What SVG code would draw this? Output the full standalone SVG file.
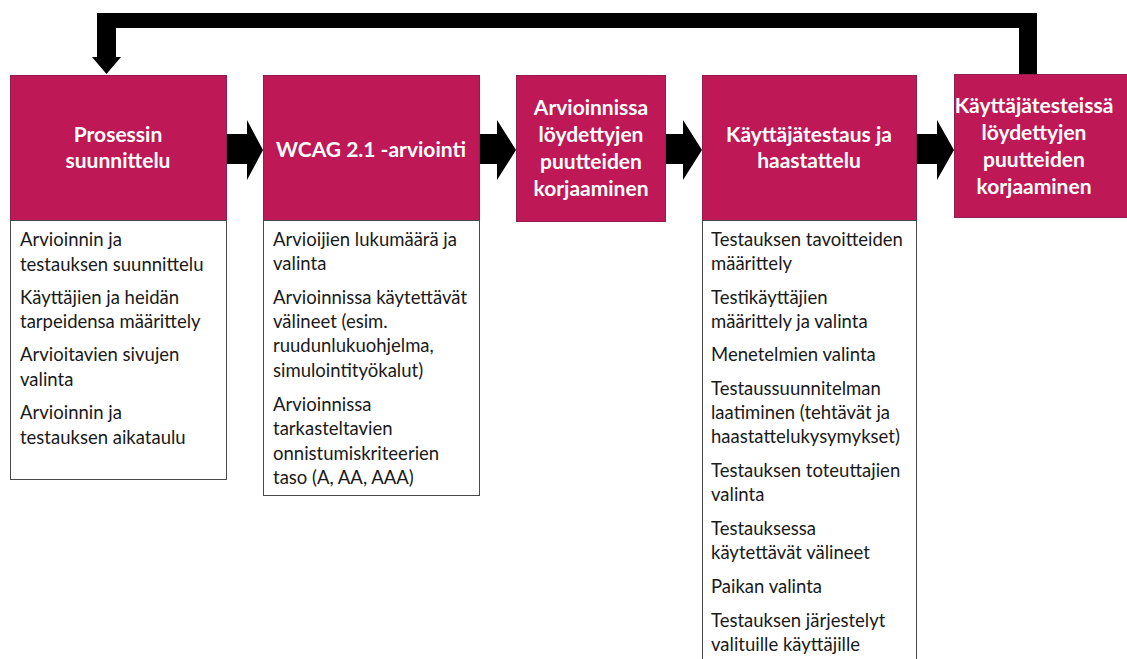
<svg xmlns="http://www.w3.org/2000/svg" width="1127" height="659" viewBox="0 0 1127 659">
<defs>
<style>
.hdr{fill:#BE1856;stroke:#8f1f4a;stroke-width:1}
.lst{fill:#ffffff;stroke:#4a4a4a;stroke-width:1}
.ht{font-family:Lato,"Liberation Sans",sans-serif;font-weight:bold;font-size:21px;fill:#ffffff;text-anchor:middle}
.lt{font-family:Lato,"Liberation Sans",sans-serif;font-size:18.5px;fill:#1a1a1a}
.arr{fill:#000000}
</style>
</defs>
<rect width="1127" height="659" fill="#ffffff"/>
<g id="connectors">
<polygon class="arr" points="1037,13 1037,74 1019,74 1019,28 116,28 116,57 121,57 106.5,74 92,57 97,57 97,13"/>
<polygon class="arr" points="226,134 247,134 247,120 263,150 247,180 247,164 226,164"/>
<polygon class="arr" points="479,134 497,134 497,120 516,150 497,180 497,164 479,164"/>
<polygon class="arr" points="665,134 683,134 683,120 702,150 683,180 683,164 665,164"/>
<polygon class="arr" points="916,134 937,134 937,120 954,150 937,180 937,164 916,164"/>
</g>
<g id="node1">
<rect class="hdr" x="10.5" y="75.5" width="216" height="145"/>
<text class="ht" x="118" y="142">Prosessin</text>
<text class="ht" x="118" y="168">suunnittelu</text>
<rect class="lst" x="10.5" y="220.5" width="216" height="259"/>
<text class="lt" x="20" y="246">Arvioinnin ja</text>
<text class="lt" x="20" y="271">testauksen suunnittelu</text>
<text class="lt" x="20" y="304">Käyttäjien ja heidän</text>
<text class="lt" x="20" y="328">tarpeidensa määrittely</text>
<text class="lt" x="20" y="361">Arvioitavien sivujen</text>
<text class="lt" x="20" y="386">valinta</text>
<text class="lt" x="20" y="419">Arvioinnin ja</text>
<text class="lt" x="20" y="444">testauksen aikataulu</text>
</g>
<g id="node2">
<rect class="hdr" x="263.5" y="75.5" width="216" height="145"/>
<text class="ht" x="371" y="157">WCAG 2.1 -arviointi</text>
<rect class="lst" x="263.5" y="220.5" width="216" height="275"/>
<text class="lt" x="273" y="246">Arvioijien lukumäärä ja</text>
<text class="lt" x="273" y="270">valinta</text>
<text class="lt" x="273" y="304">Arvioinnissa käytettävät</text>
<text class="lt" x="273" y="328">välineet (esim.</text>
<text class="lt" x="273" y="352">ruudunlukuohjelma,</text>
<text class="lt" x="273" y="377">simulointityökalut)</text>
<text class="lt" x="273" y="411">Arvioinnissa</text>
<text class="lt" x="273" y="435">tarkasteltavien</text>
<text class="lt" x="273" y="460">onnistumiskriteerien</text>
<text class="lt" x="273" y="484">taso (A, AA, AAA)</text>
</g>
<g id="node3">
<rect class="hdr" x="516.5" y="75.5" width="149" height="146"/>
<text class="ht" x="591" y="115">Arvioinnissa</text>
<text class="ht" x="591" y="142">löydettyjen</text>
<text class="ht" x="591" y="169">puutteiden</text>
<text class="ht" x="591" y="196">korjaaminen</text>
</g>
<g id="node4">
<rect class="hdr" x="702.5" y="75.5" width="214" height="145"/>
<text class="ht" x="809" y="142">Käyttäjätestaus ja</text>
<text class="ht" x="809" y="168">haastattelu</text>
<rect class="lst" x="702.5" y="220.5" width="214" height="450"/>
<text class="lt" x="711" y="246">Testauksen tavoitteiden</text>
<text class="lt" x="711" y="270">määrittely</text>
<text class="lt" x="711" y="304">Testikäyttäjien</text>
<text class="lt" x="711" y="328">määrittely ja valinta</text>
<text class="lt" x="711" y="361">Menetelmien valinta</text>
<text class="lt" x="711" y="395">Testaussuunnitelman</text>
<text class="lt" x="711" y="419">laatiminen (tehtävät ja</text>
<text class="lt" x="711" y="443">haastattelukysymykset)</text>
<text class="lt" x="711" y="477">Testauksen toteuttajien</text>
<text class="lt" x="711" y="501">valinta</text>
<text class="lt" x="711" y="535">Testauksessa</text>
<text class="lt" x="711" y="559">käytettävät välineet</text>
<text class="lt" x="711" y="593">Paikan valinta</text>
<text class="lt" x="711" y="627">Testauksen järjestelyt</text>
<text class="lt" x="711" y="651">valituille käyttäjille</text>
</g>
<g id="node5">
<rect class="hdr" x="954.5" y="74.5" width="190" height="143"/>
<text class="ht" x="1034" y="113">Käyttäjätesteissä</text>
<text class="ht" x="1034" y="140">löydettyjen</text>
<text class="ht" x="1034" y="167">puutteiden</text>
<text class="ht" x="1034" y="194">korjaaminen</text>
</g>
</svg>
